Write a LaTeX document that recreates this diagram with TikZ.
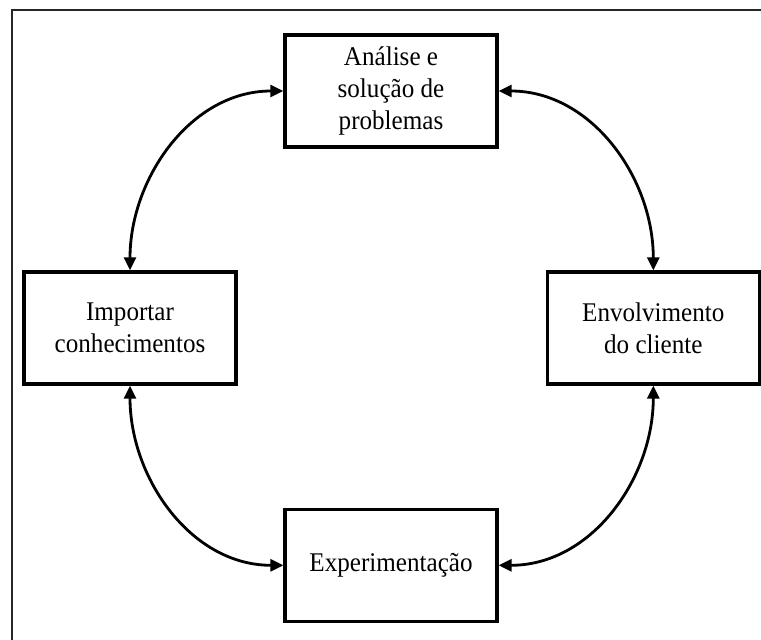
\documentclass[tikz,border=0pt]{standalone}
\usepackage{fontspec}
\setmainfont{Liberation Serif}[FakeStretch=0.93]
\usetikzlibrary{arrows.meta, positioning}

\begin{document}
\begin{tikzpicture}[
    x=1bp, y=1bp,
    every node/.style={font=\fontsize{27bp}{32bp}\selectfont},
    stage/.style={rectangle, draw=black, line width=3.3bp, minimum width=212bp, minimum height=112bp, inner sep=0pt, align=center, text=black},
    arrow_both/.style={{Triangle[length=13bp, width=12bp]}-{Triangle[length=13bp, width=12bp]}, line width=2.8bp, draw=black},
    frame/.style={line width=1.6bp, draw=black!85},
]
\useasboundingbox (0,0) rectangle (761,-640);

% ====== FRAME ======
\coordinate (frame_corner) at (12,-10);
\coordinate (frame_right) at (761,-10);
\coordinate (frame_bottom) at (12,-640);
\draw[frame] (frame_right) -- (frame_corner) -- (frame_bottom);

% ====== CYCLE NODES ======
\node[stage] (analise) at (391,-91) {Análise e \\ solução de \\ problemas};
\node[stage, below=359bp of analise] (experimentacao) {Experimentação};
\node[stage] (importar) at (130,-328) {Importar \\ conhecimentos};
\node[stage, right=308bp of importar] (envolvimento) {Envolvimento \\ do cliente};

% --- arrows ---
\draw[arrow_both] (importar.north) to[out=90, in=180] (analise.west);
\draw[arrow_both] (analise.east) to[out=0, in=90] (envolvimento.north);
\draw[arrow_both] (envolvimento.south) to[out=-90, in=0] (experimentacao.east);
\draw[arrow_both] (experimentacao.west) to[out=180, in=-90] (importar.south);

\end{tikzpicture}
\end{document}
